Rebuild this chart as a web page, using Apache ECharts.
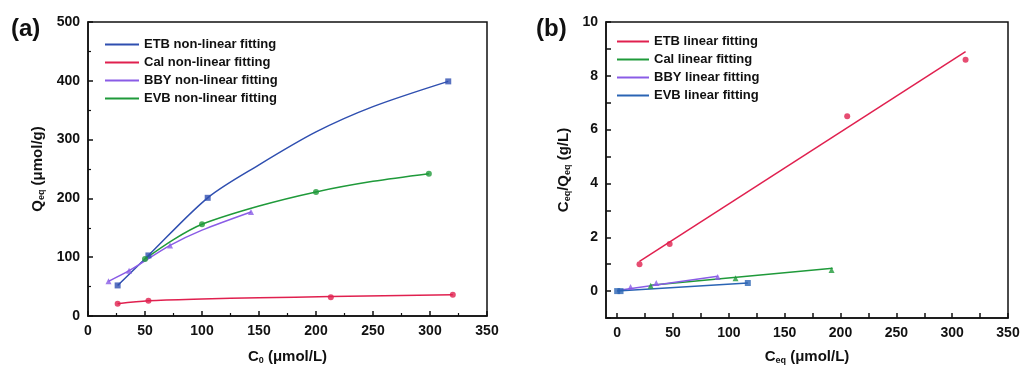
<!DOCTYPE html>
<html>
<head>
<meta charset="utf-8">
<script src="https://cdn.jsdelivr.net/npm/echarts@6/dist/echarts.min.js"></script>
<style>
  html, body { margin: 0; padding: 0; background: #fff; }
  #chart { width: 1024px; height: 370px; }
</style>
</head>
<body>
<div id="chart"></div>
<script>
// (a) C0 vs Qeq, measured points
const etbC0 = [26, 53, 105, 316]
const etbQ = [52, 103, 201, 399]
const calC0 = [26, 53, 213, 320]
const calQ = [21, 26, 32, 36]
const bbyC0 = [18, 36, 72, 143]
const bbyQ = [59, 77, 120, 177]
const evbC0 = [50, 100, 200, 299]
const evbQ = [97, 156, 211, 242]
// (a) non-linear fitting curves
const etbCurveX = [26, 53, 105, 150, 200, 250, 316]
const etbCurveY = [52, 103, 201, 257, 313, 356, 399]
const calCurveX = [26, 53, 100, 150, 213, 320]
const calCurveY = [21, 26, 29, 31, 33, 36]
const bbyCurveX = [18, 36, 72, 100, 143]
const bbyCurveY = [59, 77, 120, 146, 177]
const evbCurveX = [50, 75, 100, 150, 200, 250, 299]
const evbCurveY = [97, 130, 156, 187, 211, 229, 242]

// (b) Ceq vs Ceq/Qeq
const etbCeq = [20, 47, 206, 312]
const etbRatio = [1.0, 1.75, 6.5, 8.6]
const etbFitX = [20, 312]
const etbFitY = [1.1, 8.9]
const calCeq = [30, 106, 192]
const calRatio = [0.2, 0.48, 0.78]
const calFitX = [30, 193]
const calFitY = [0.22, 0.85]
const bbyCeq = [12, 35, 90]
const bbyRatio = [0.15, 0.3, 0.52]
const bbyFitX = [0, 90]
const bbyFitY = [0.02, 0.55]
const evbCeq = [0, 3, 117]
const evbRatio = [0.0, 0.0, 0.3]
const evbFitX = [0, 117]
const evbFitY = [0.0, 0.3]

const xTicksB = [0, 50, 100, 150, 200, 250, 300, 350]
const xMinorB = [0, 25, 50, 75, 100, 125, 150, 175, 200, 225, 250, 275, 300, 325, 350]
const yTicksB = [0, 2, 4, 6, 8, 10]
const yMinorB = [-1, 0, 1, 2, 3, 4, 5, 6, 7, 8, 9, 10]

const FONT = 'Liberation Sans, Arial, sans-serif'
const C_BLUE = '#2f4fb0'
const C_RED = '#e0204f'
const C_PURPLE = '#8a5ce6'
const C_GREEN = '#1f9a3a'
const C_BLUE2 = '#2a64b4'

const zip = (xs, ys) => xs.map((x, i) => [x, ys[i]])

const labelStyle = { color: '#111', fontSize: 14, fontWeight: 'bold', fontFamily: FONT }
const axisLine = { show: true, onZero: false, lineStyle: { color: '#111', width: 1.5 } }
const tick = { show: true, inside: true, length: 5, lineStyle: { color: '#111', width: 1.5 } }
const minor = { show: true, splitNumber: 2, length: 3, lineStyle: { color: '#111', width: 1.2 } }
const nameRich = {
  a: { fontSize: 15, fontWeight: 'bold', fontFamily: FONT, color: '#111' },
  s: { fontSize: 9, fontWeight: 'bold', fontFamily: FONT, color: '#111', padding: [8, 0, 0, 0] }
}

function fitLine(name, data, color, xi, yi, smooth) {
  return {
    name: name, type: 'line', xAxisIndex: xi, yAxisIndex: yi,
    data: data, smooth: smooth ? 0.3 : false,
    symbol: 'none', lineStyle: { color: color, width: 1.5 }, itemStyle: { color: color },
    z: 2
  }
}
function dots(data, color, shape, xi, yi) {
  return {
    type: 'scatter', xAxisIndex: xi, yAxisIndex: yi, data: data,
    symbol: shape, symbolSize: 6, itemStyle: { color: color }, z: 3
  }
}

const option = {
  backgroundColor: '#fff',
  animation: false,
  textStyle: { fontFamily: FONT },
  title: [
    { text: '(a)', left: 6, top: 12, textStyle: { fontSize: 24, fontWeight: 'bold', color: '#111', fontFamily: FONT } },
    { text: '(b)', left: 531, top: 12, textStyle: { fontSize: 24, fontWeight: 'bold', color: '#111', fontFamily: FONT } }
  ],
  legend: [
    {
      left: 100, top: 33, orient: 'vertical', itemGap: 5, itemWidth: 34, itemHeight: 2,
      icon: 'rect',
      textStyle: { fontSize: 13, fontWeight: 'bold', color: '#111', fontFamily: FONT },
      data: ['ETB non-linear fitting', 'Cal non-linear fitting', 'BBY non-linear fitting', 'EVB non-linear fitting']
    },
    {
      left: 612, top: 30, orient: 'vertical', itemGap: 5, itemWidth: 32, itemHeight: 2,
      icon: 'rect',
      textStyle: { fontSize: 13, fontWeight: 'bold', color: '#111', fontFamily: FONT },
      data: ['ETB linear fitting', 'Cal linear fitting', 'BBY linear fitting', 'EVB linear fitting']
    }
  ],
  grid: [
    { left: 88, top: 22, width: 399, height: 294, show: true, borderColor: '#111', borderWidth: 1.5, backgroundColor: 'transparent' },
    { left: 606, top: 22, width: 402, height: 296, show: true, borderColor: '#111', borderWidth: 1.5, backgroundColor: 'transparent' }
  ],
  xAxis: [
    {
      gridIndex: 0, type: 'value', min: 0, max: 350, interval: 50,
      axisLine: axisLine, axisTick: tick, minorTick: minor, splitLine: { show: false },
      axisLabel: Object.assign({ margin: 8 }, labelStyle),
      name: '{a|C}{s|0}{a| (μmol/L)}', nameLocation: 'middle', nameGap: 32,
      nameTextStyle: { rich: nameRich }
    },
    {
      gridIndex: 1, type: 'value', min: -10, max: 350,
      axisLine: axisLine,
      axisTick: Object.assign({}, tick, { customValues: xMinorB }),
      splitLine: { show: false },
      axisLabel: Object.assign({ margin: 8, customValues: xTicksB }, labelStyle),
      name: '{a|C}{s|eq}{a| (μmol/L)}', nameLocation: 'middle', nameGap: 30,
      nameTextStyle: { rich: nameRich }
    }
  ],
  yAxis: [
    {
      gridIndex: 0, type: 'value', min: 0, max: 500, interval: 100,
      axisLine: axisLine, axisTick: tick, minorTick: minor, splitLine: { show: false },
      axisLabel: Object.assign({ margin: 8 }, labelStyle),
      name: '{a|Q}{s|eq}{a| (μmol/g)}', nameLocation: 'middle', nameGap: 42, nameRotate: 90,
      nameTextStyle: { rich: nameRich }
    },
    {
      gridIndex: 1, type: 'value', min: -1, max: 10,
      axisLine: axisLine,
      axisTick: Object.assign({}, tick, { customValues: yMinorB }),
      splitLine: { show: false },
      axisLabel: Object.assign({ margin: 8, customValues: yTicksB }, labelStyle),
      name: '{a|C}{s|eq}{a|/Q}{s|eq}{a| (g/L)}', nameLocation: 'middle', nameGap: 34, nameRotate: 90,
      nameTextStyle: { rich: nameRich }
    }
  ],
  series: [
    fitLine('ETB non-linear fitting', zip(etbCurveX, etbCurveY), C_BLUE, 0, 0, true),
    fitLine('Cal non-linear fitting', zip(calCurveX, calCurveY), C_RED, 0, 0, true),
    fitLine('BBY non-linear fitting', zip(bbyCurveX, bbyCurveY), C_PURPLE, 0, 0, true),
    fitLine('EVB non-linear fitting', zip(evbCurveX, evbCurveY), C_GREEN, 0, 0, true),
    dots(zip(etbC0, etbQ), C_BLUE, 'rect', 0, 0),
    dots(zip(calC0, calQ), C_RED, 'circle', 0, 0),
    dots(zip(bbyC0, bbyQ), C_PURPLE, 'triangle', 0, 0),
    dots(zip(evbC0, evbQ), C_GREEN, 'circle', 0, 0),

    fitLine('ETB linear fitting', zip(etbFitX, etbFitY), C_RED, 1, 1, false),
    fitLine('Cal linear fitting', zip(calFitX, calFitY), C_GREEN, 1, 1, false),
    fitLine('BBY linear fitting', zip(bbyFitX, bbyFitY), C_PURPLE, 1, 1, false),
    fitLine('EVB linear fitting', zip(evbFitX, evbFitY), C_BLUE2, 1, 1, false),
    dots(zip(etbCeq, etbRatio), C_RED, 'circle', 1, 1),
    dots(zip(calCeq, calRatio), C_GREEN, 'triangle', 1, 1),
    dots(zip(bbyCeq, bbyRatio), C_PURPLE, 'triangle', 1, 1),
    dots(zip(evbCeq, evbRatio), C_BLUE2, 'rect', 1, 1)
  ]
}

const myChart = echarts.init(document.getElementById('chart'), null, { renderer: 'canvas' })
myChart.setOption(option)
window.onresize = myChart.resize
</script>
</body>
</html>
